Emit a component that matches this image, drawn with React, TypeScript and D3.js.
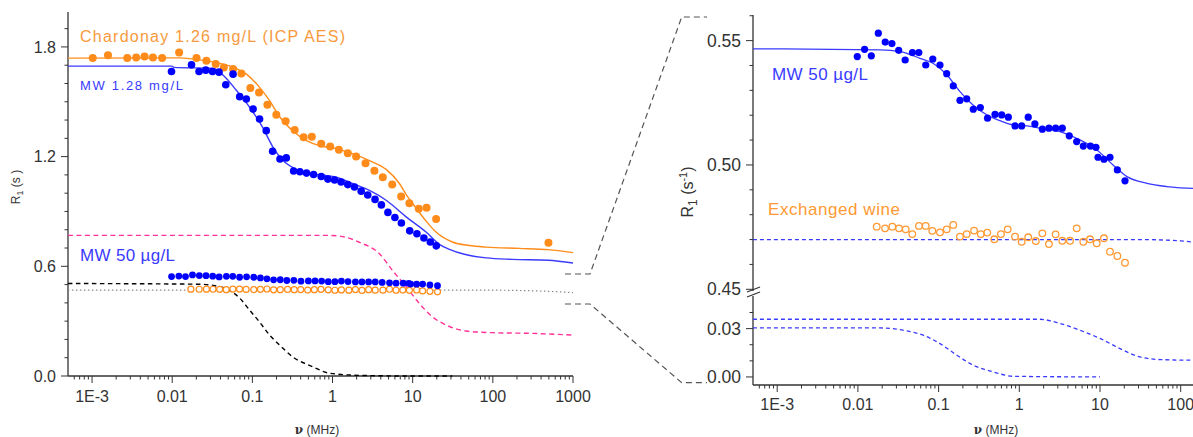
import React from "react";
import * as d3 from "d3";

// ---- data (frequency in MHz, R1 in s-1) ----
const chardonayPts: [number, number][] = [
  [0.00102, 1.739], [0.00158, 1.755], [0.00275, 1.739], [0.00355, 1.742], [0.00452, 1.747],
  [0.00575, 1.742], [0.00748, 1.739], [0.0122, 1.77], [0.0201, 1.739], [0.0267, 1.724],
  [0.0349, 1.706], [0.044, 1.688], [0.0575, 1.679], [0.0729, 1.655], [0.0944, 1.575],
  [0.121, 1.551], [0.154, 1.484], [0.199, 1.429], [0.26, 1.393], [0.337, 1.346],
  [0.436, 1.306], [0.552, 1.309], [0.723, 1.27], [0.935, 1.255], [1.2, 1.237],
  [1.55, 1.219], [1.97, 1.2], [2.58, 1.164], [3.33, 1.123], [4.24, 1.087],
  [5.55, 1.047], [7.18, 0.982], [9.1, 0.945], [11.9, 0.915], [14.9, 0.92],
  [19.6, 0.859], [494, 0.729],
];
const chardonayFit: [number, number][] = [
  [0.0005, 1.739], [0.01245, 1.74], [0.0221, 1.729], [0.0392, 1.71], [0.0603, 1.686],
  [0.085, 1.65], [0.123, 1.579], [0.164, 1.506], [0.219, 1.418], [0.318, 1.342],
  [0.474, 1.288], [0.689, 1.26], [1.12, 1.244], [1.77, 1.216], [2.89, 1.178],
  [4.71, 1.129], [6.83, 1.053], [8.59, 0.982], [11.1, 0.917], [14.8, 0.846],
  [19.7, 0.786], [31.2, 0.733], [50.8, 0.714], [82.8, 0.705], [213, 0.698],
  [490, 0.691], [1000, 0.675],
];
const mw128Pts: [number, number][] = [
  [0.0098, 1.666], [0.0174, 1.702], [0.0216, 1.666], [0.0262, 1.673], [0.0318, 1.666],
  [0.0384, 1.662], [0.0466, 1.593], [0.0574, 1.651], [0.0695, 1.528], [0.0841, 1.515],
  [0.102, 1.46], [0.123, 1.406], [0.149, 1.342], [0.179, 1.229], [0.221, 1.187],
  [0.265, 1.193], [0.327, 1.121], [0.392, 1.117], [0.474, 1.11], [0.581, 1.102],
  [0.723, 1.091], [0.875, 1.077], [1.06, 1.072], [1.28, 1.061], [1.55, 1.047],
  [1.88, 1.034], [2.28, 1.011], [2.75, 0.99], [3.39, 0.966], [4.07, 0.936],
  [4.91, 0.895], [6.0, 0.867], [7.23, 0.837], [9.18, 0.794], [11.3, 0.778],
  [13.8, 0.755], [16.6, 0.733], [19.7, 0.712],
];
const mw128Fit: [number, number][] = [
  [0.0005, 1.695], [0.00989, 1.695], [0.0105, 1.688], [0.0321, 1.683], [0.0452, 1.637],
  [0.0638, 1.56], [0.0925, 1.47], [0.134, 1.361], [0.179, 1.255], [0.238, 1.181],
  [0.336, 1.135], [0.564, 1.106], [1.12, 1.087], [1.77, 1.053], [2.89, 1.015],
  [4.71, 0.96], [8.36, 0.869], [14.8, 0.786], [21.5, 0.72], [28.7, 0.693],
  [44.1, 0.666], [82.8, 0.646], [175, 0.638], [490, 0.633], [1000, 0.618],
];
const pinkContrib: [number, number][] = [
  [0.0005, 0.769], [0.918, 0.769], [1.5, 0.758], [2.17, 0.731], [3.85, 0.669],
  [5.58, 0.578], [8.36, 0.486], [12.1, 0.397], [17.6, 0.324], [26.3, 0.278],
  [46.7, 0.246], [98.4, 0.237], [310, 0.233], [1000, 0.224],
];
const blackContrib: [number, number][] = [
  [0.0005, 0.506], [0.0221, 0.502], [0.034, 0.494], [0.0479, 0.475], [0.0695, 0.426],
  [0.0925, 0.36], [0.123, 0.295], [0.164, 0.224], [0.219, 0.169], [0.318, 0.105],
  [0.564, 0.051], [0.918, 0.015], [2.37, 0.003], [9.91, 0], [31.2, 0],
];
const wineBaseline: [number, number][] = [
  [0.0005, 0.47], [30, 0.47], [100, 0.4695], [200, 0.468], [500, 0.463], [1000, 0.456],
];
const mw50Pts: [number, number][] = [
  [0.00982, 0.5436], [0.0121, 0.5465], [0.01466, 0.5439], [0.0179, 0.553], [0.0218, 0.5494],
  [0.0264, 0.5488], [0.032, 0.5461], [0.0385, 0.5422], [0.0474, 0.5452], [0.0569, 0.5452],
  [0.0693, 0.5402], [0.0847, 0.5426], [0.104, 0.5402], [0.126, 0.5367], [0.152, 0.5318],
  [0.184, 0.526], [0.223, 0.5266], [0.269, 0.5224], [0.329, 0.5231], [0.404, 0.5188],
  [0.5, 0.5203], [0.605, 0.5201], [0.731, 0.5192], [0.885, 0.5157], [1.07, 0.5157],
  [1.29, 0.5192], [1.56, 0.5165], [1.93, 0.5144], [2.33, 0.5148], [2.82, 0.5148],
  [3.41, 0.5148], [4.16, 0.5117], [5.14, 0.5094], [6.21, 0.5076], [7.62, 0.5076],
  [8.91, 0.5071], [9.44, 0.5031], [11.2, 0.5023], [13.3, 0.5031], [16.4, 0.498],
  [20.4, 0.4936],
];
const mw50Fit: [number, number][] = [
  [0.0005, 0.5467], [0.0188, 0.5463], [0.0333, 0.5456], [0.0588, 0.5429], [0.0851, 0.5409],
  [0.127, 0.5362], [0.184, 0.5295], [0.267, 0.5241], [0.398, 0.5201], [0.577, 0.5178],
  [0.836, 0.5161], [1.25, 0.5157], [1.8, 0.5148], [3.19, 0.5134], [5.65, 0.5101],
  [9.18, 0.506], [14.5, 0.5], [21.6, 0.4953], [38.2, 0.4926], [67.6, 0.4913],
  [142, 0.4906], [1000, 0.4905],
];
const winePts: [number, number][] = [
  [0.0171, 0.4752], [0.0217, 0.4745], [0.0267, 0.4752], [0.0323, 0.4745], [0.0391, 0.4741],
  [0.0472, 0.4722], [0.0571, 0.4755], [0.0692, 0.4755], [0.0835, 0.4735], [0.104, 0.4729],
  [0.126, 0.4741], [0.152, 0.4759], [0.184, 0.4712], [0.223, 0.4722], [0.275, 0.4736],
  [0.333, 0.4722], [0.401, 0.4728], [0.49, 0.4701], [0.593, 0.4722], [0.718, 0.4741],
  [0.885, 0.4712], [1.07, 0.4691], [1.29, 0.4709], [1.6, 0.4694], [1.93, 0.4725],
  [2.33, 0.4682], [2.82, 0.4721], [3.41, 0.4695], [4.25, 0.4695], [5.14, 0.4745],
  [6.21, 0.4691], [7.52, 0.4701], [9.1, 0.4685], [11.2, 0.4705], [13.3, 0.4651],
  [16.4, 0.4634], [20.4, 0.4607],
];
const contribA: [number, number][] = [
  [0.0005, 0.0358], [1.8, 0.0358], [3.19, 0.0332], [5.65, 0.029], [10, 0.0239],
  [17.7, 0.0176], [31.3, 0.0124], [55.4, 0.0108], [142, 0.0104], [1000, 0.0104],
];
const contribB: [number, number][] = [
  [0.0005, 0.0304], [0.0188, 0.0304], [0.0403, 0.0286], [0.0646, 0.0259], [0.104, 0.0207],
  [0.168, 0.0135], [0.269, 0.0073], [0.476, 0.0031], [0.843, 0.0004], [10, 0],
];

const xTickLabels: Record<number, string> = {
  [-3]: "1E-3", [-2]: "0.01", [-1]: "0.1", 0: "1", 1: "10", 2: "100", 3: "1000",
};
const leftYLabels = [0, 0.6, 1.2, 1.8];
const rightUpperLabels = [0.45, 0.5, 0.55];
const rightLowerLabels = [0, 0.03];

const FONT = "Arial, 'Liberation Sans', sans-serif";
const AXIS = "#333";
const ORANGE = "#ff8c1a";
const ORANGE_TXT = "#f79a3e";
const BLUE = "#0000ff";
const BLUE_LINE = "#3a3aff";

type Pt = [number, number];

const LogXAxis = ({ x, y0, fs, labelDy }: any) => {
  const [lo, hi] = x.domain();
  const ticks = x.ticks().filter((t: number) => t >= lo && t <= hi * 1.0001);
  return (
    <g>
      <line x1={x.range()[0]} x2={x.range()[1]} y1={y0} y2={y0} stroke={AXIS} strokeWidth={1.3} />
      {ticks.map((t: number, i: number) => {
        const lg = Math.log10(t);
        const major = Math.abs(lg - Math.round(lg)) < 1e-6;
        return (
          <g key={i}>
            <line x1={x(t)} x2={x(t)} y1={y0} y2={y0 + (major ? 7 : 3.5)} stroke={AXIS} strokeWidth={1} />
            {major && (
              <text x={x(t)} y={y0 + labelDy} textAnchor="middle" fontSize={fs} fill={AXIS} fontFamily={FONT}>
                {xTickLabels[Math.round(lg)]}
              </text>
            )}
          </g>
        );
      })}
    </g>
  );
};

const YTicks = ({ y, x0, ticks, labels, fs, fmt }: any) => (
  <g>
    {ticks.map((t: number, i: number) => {
      const major = labels.some((l: number) => Math.abs(l - t) < 1e-9);
      return (
        <g key={i}>
          <line x1={x0 - (major ? 7 : 3.5)} x2={x0} y1={y(t)} y2={y(t)} stroke={AXIS} strokeWidth={1} />
          {major && (
            <text x={x0 - 12} y={y(t)} dy="0.35em" textAnchor="end" fontSize={fs} fill={AXIS} fontFamily={FONT}>
              {fmt(t)}
            </text>
          )}
        </g>
      );
    })}
  </g>
);

export default function App() {
  // left panel scales
  const xL = d3.scaleLog().domain([Math.pow(10, -3.3), 1000]).range([68, 573]);
  const yL = d3.scaleLinear().domain([0, 1.99]).range([376, 12.2]);
  // right panel scales (broken y axis)
  const xR = d3.scaleLog().domain([Math.pow(10, -3.3), 1000]).range([753, 1261.4]);
  const yRU = d3.scaleLinear().domain([0.45, 0.5603]).range([289.3, 15]);
  const yRL = d3.scaleLinear().domain([-0.005, 0.0495]).range([385, 297.2]);

  const lineL = d3.line<Pt>().x(d => xL(d[0])).y(d => yL(d[1])).curve(d3.curveMonotoneX);
  const lineRU = d3.line<Pt>().x(d => xR(d[0])).y(d => yRU(d[1])).curve(d3.curveMonotoneX);
  const lineRL = d3.line<Pt>().x(d => xR(d[0])).y(d => yRL(d[1])).curve(d3.curveMonotoneX);

  const leftTicks = d3.range(0, 20).map(i => i / 10);
  const upTicks = d3.range(45, 57).map(i => i / 100);
  const lowTicks = d3.range(0, 5).map(i => i / 100);

  return (
    <svg width={1193} height={437} style={{ position: "absolute", left: 0, top: 0, background: "#fff" }}>
      <rect width={1193} height={437} fill="#fff" />

      {/* ---------- left panel ---------- */}
      <line x1={68} x2={68} y1={12} y2={376} stroke={AXIS} strokeWidth={1.3} />
      <YTicks y={yL} x0={68} ticks={leftTicks} labels={leftYLabels} fs={16} fmt={d3.format(".1f")} />
      <LogXAxis x={xL} y0={376} fs={16} labelDy={26} />

      <path d={lineL(wineBaseline)!} fill="none" stroke="#888" strokeWidth={1.2} strokeDasharray="1.5,2.5" />
      <path d={lineL(pinkContrib)!} fill="none" stroke="#ff3399" strokeWidth={1.4} strokeDasharray="5,3.5" />
      <path d={lineL(blackContrib)!} fill="none" stroke="#000" strokeWidth={1.4} strokeDasharray="4.5,3.5" />
      <path d={lineL(chardonayFit)!} fill="none" stroke={ORANGE} strokeWidth={1.4} />
      <path d={lineL(mw128Fit)!} fill="none" stroke={BLUE_LINE} strokeWidth={1.4} />

      {chardonayPts.map((d, i) => (
        <circle key={"c" + i} cx={xL(d[0])} cy={yL(d[1])} r={4} fill={ORANGE} />
      ))}
      {mw128Pts.map((d, i) => (
        <circle key={"m" + i} cx={xL(d[0])} cy={yL(d[1])} r={3.8} fill={BLUE} />
      ))}
      {winePts.map((d, i) => (
        <circle key={"w" + i} cx={xL(d[0])} cy={yL(d[1])} r={3} fill="#fff" stroke={ORANGE} strokeWidth={1.2} />
      ))}
      {mw50Pts.map((d, i) => (
        <circle key={"f" + i} cx={xL(d[0])} cy={yL(d[1])} r={3.4} fill={BLUE} />
      ))}

      <text x={80} y={42} fontSize={16} fill={ORANGE_TXT} fontFamily={FONT} textLength={265} lengthAdjust="spacing">
        Chardonay 1.26 mg/L  (ICP AES)
      </text>
      <text x={80} y={90} fontSize={13} fill={BLUE_LINE} fontFamily={FONT} textLength={103} lengthAdjust="spacing">
        MW  1.28  mg/L
      </text>
      <text x={80} y={261} fontSize={17} fill={BLUE_LINE} fontFamily={FONT} textLength={95} lengthAdjust="spacing">
        MW 50 µg/L
      </text>

      <text x={317} y={434} textAnchor="middle" fontSize={12} fill={AXIS} fontFamily={FONT}>
        <tspan fontFamily="'DejaVu Serif', serif" fontWeight="bold">ν</tspan> (MHz)
      </text>
      <text transform="translate(20,187) rotate(-90)" textAnchor="middle" fontSize={12} fill={AXIS} fontFamily={FONT}>
        R<tspan fontSize={9} dy={3}>1</tspan><tspan dy={-3}> (s  )</tspan>
      </text>

      {/* ---------- zoom connectors ---------- */}
      <path d="M565,274 L590,274 L681.7,17 L707,17" fill="none" stroke="#555" strokeWidth={1.2} strokeDasharray="6,4" />
      <path d="M565,304 L590,304 L681.7,382.7 L707,382.7" fill="none" stroke="#555" strokeWidth={1.2} strokeDasharray="6,4" />

      {/* ---------- right panel ---------- */}
      <line x1={753} x2={753} y1={15} y2={291} stroke={AXIS} strokeWidth={1.3} />
      <line x1={753} x2={753} y1={296} y2={385} stroke={AXIS} strokeWidth={1.3} />
      <line x1={747} x2={760} y1={292} y2={287} stroke={AXIS} strokeWidth={1.3} />
      <line x1={747} x2={760} y1={297} y2={292} stroke={AXIS} strokeWidth={1.3} />
      <YTicks y={yRU} x0={753} ticks={upTicks} labels={rightUpperLabels} fs={17.5} fmt={d3.format(".2f")} />
      <YTicks y={yRL} x0={753} ticks={lowTicks} labels={rightLowerLabels} fs={17.5} fmt={d3.format(".2f")} />
      <LogXAxis x={xR} y0={385} fs={16} labelDy={25} />

      <path d={lineRU(wineBaseline)!} fill="none" stroke={BLUE_LINE} strokeWidth={1.3} strokeDasharray="4,3" />
      <path d={lineRL(contribA)!} fill="none" stroke={BLUE_LINE} strokeWidth={1.3} strokeDasharray="4,3" />
      <path d={lineRL(contribB)!} fill="none" stroke={BLUE_LINE} strokeWidth={1.3} strokeDasharray="4,3" />
      <path d={lineRU(mw50Fit)!} fill="none" stroke={BLUE_LINE} strokeWidth={1.3} />

      {mw50Pts.map((d, i) => (
        <circle key={"r" + i} cx={xR(d[0])} cy={yRU(d[1])} r={3.6} fill={BLUE} />
      ))}
      {winePts.map((d, i) => (
        <circle key={"e" + i} cx={xR(d[0])} cy={yRU(d[1])} r={3.3} fill="none" stroke="#ff9933" strokeWidth={1.3} />
      ))}

      <text x={772} y={80} fontSize={17} fill={BLUE_LINE} fontFamily={FONT} textLength={96} lengthAdjust="spacing">
        MW 50 µg/L
      </text>
      <text x={768} y={215} fontSize={17} fill="#ff9933" fontFamily={FONT} textLength={132} lengthAdjust="spacing">
        Exchanged wine
      </text>

      <text x={996} y={434} textAnchor="middle" fontSize={12} fill={AXIS} fontFamily={FONT}>
        <tspan fontFamily="'DejaVu Serif', serif" fontWeight="bold">ν</tspan> (MHz)
      </text>
      <text transform="translate(693,192) rotate(-90)" textAnchor="middle" fontSize={16} fill={AXIS} fontFamily={FONT}>
        R<tspan fontSize={12} dy={4}>1</tspan><tspan dy={-4}> (s</tspan><tspan fontSize={11} dy={-6}>-1</tspan><tspan dy={6}>)</tspan>
      </text>
    </svg>
  );
}
